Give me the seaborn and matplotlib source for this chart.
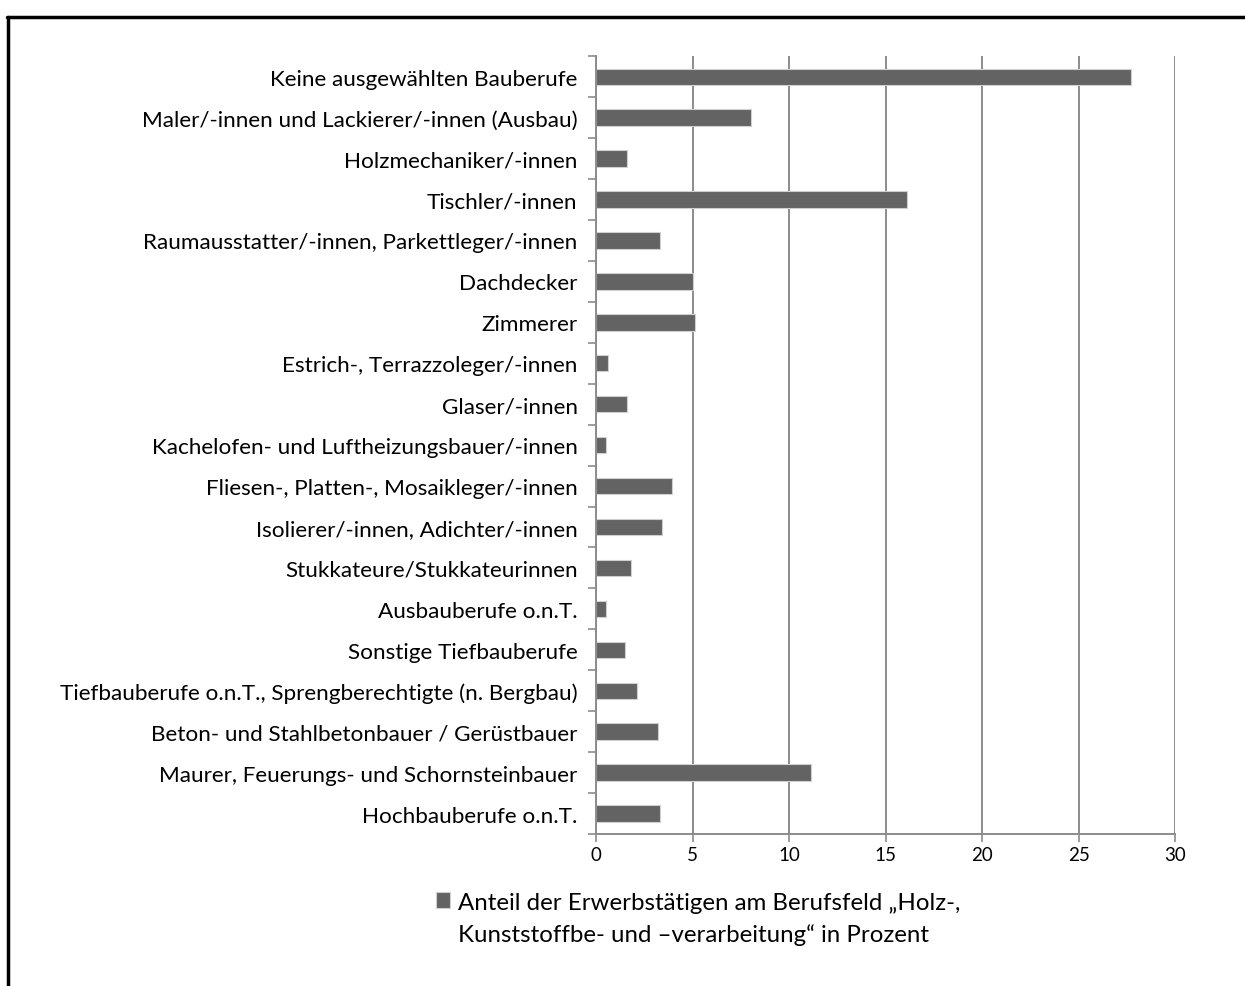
import matplotlib
matplotlib.use("Agg")
import matplotlib.pyplot as plt
import seaborn as sns
import pandas as pd

# Berufe (von oben nach unten) und Anteile in Prozent
berufe = [
    "Keine ausgewählten Bauberufe",
    "Maler/-innen und Lackierer/-innen (Ausbau)",
    "Holzmechaniker/-innen",
    "Tischler/-innen",
    "Raumausstatter/-innen, Parkettleger/-innen",
    "Dachdecker",
    "Zimmerer",
    "Estrich-, Terrazzoleger/-innen",
    "Glaser/-innen",
    "Kachelofen- und Luftheizungsbauer/-innen",
    "Fliesen-, Platten-, Mosaikleger/-innen",
    "Isolierer/-innen, Adichter/-innen",
    "Stukkateure/Stukkateurinnen",
    "Ausbauberufe o.n.T.",
    "Sonstige Tiefbauberufe",
    "Tiefbauberufe o.n.T., Sprengberechtigte (n. Bergbau)",
    "Beton- und Stahlbetonbauer / Gerüstbauer",
    "Maurer, Feuerungs- und Schornsteinbauer",
    "Hochbauberufe o.n.T.",
]
anteile = [27.7, 8.0, 1.6, 16.1, 3.3, 5.0, 5.1, 0.6, 1.6, 0.5,
           3.9, 3.4, 1.8, 0.5, 1.5, 2.1, 3.2, 11.1, 3.3]
x_ticks = [0, 5, 10, 15, 20, 25, 30]
legend_line1 = "Anteil der Erwerbstätigen am Berufsfeld \u201eHolz-,"
legend_line2 = "Kunststoffbe- und \u2013verarbeitung\u201c in Prozent"

df = pd.DataFrame({"Beruf": berufe, "Anteil": anteile})

sns.set_theme(style="white")
plt.rcParams["font.family"] = ["Lato", "DejaVu Sans"]

fig = plt.figure(figsize=(12.45, 9.87), dpi=100)
ax = fig.add_axes([0.479, 0.154, 0.465, 0.788])

grid_col = "#8c8c8c"
bar_col = "#636363"

sns.barplot(data=df, y="Beruf", x="Anteil", orient="h", color=bar_col,
            width=0.4, edgecolor="#d0d0d0", linewidth=0.8,
            label=legend_line1, ax=ax)

ax.set_xlim(0, 30)
ax.set_xticks(x_ticks)
ax.set_xticklabels([str(t) for t in x_ticks])
ax.set_xlabel("")
ax.set_ylabel("")
ax.set_ylim(len(berufe) - 0.5, -0.5)

# vertical gridlines only
ax.grid(axis="x", color=grid_col, linewidth=1.4)
ax.grid(axis="y", visible=False)
ax.set_axisbelow(True)

for side in ["top", "right"]:
    ax.spines[side].set_visible(False)
for side in ["left", "bottom"]:
    ax.spines[side].set_color(grid_col)
    ax.spines[side].set_linewidth(1.4)

# category separators as outward ticks on the y axis
ax.set_yticks([i - 0.5 for i in range(len(berufe) + 1)], minor=True)
ax.tick_params(axis="y", which="minor", length=6, width=1.2, color=grid_col,
               direction="out", left=True)
ax.tick_params(axis="y", which="major", length=0, labelsize=16.2, pad=13.5,
               labelcolor="black")
ax.tick_params(axis="x", which="major", length=6, width=1.2, color=grid_col,
               direction="out", bottom=True, labelsize=13.5, pad=2.5,
               labelcolor="black")

# legend below the plot, square next to the first text line
leg = fig.legend(handles=ax.get_legend_handles_labels()[0],
                 labels=[legend_line1], loc="center left",
                 bbox_to_anchor=(0.350, 0.0851), frameon=False,
                 fontsize=17.3, handlelength=0.6, handleheight=0.6,
                 handletextpad=0.33, borderpad=0, borderaxespad=0,
                 labelcolor="black")
if ax.get_legend() is not None:
    ax.get_legend().remove()

fig.canvas.draw()
renderer = fig.canvas.get_renderer()
first = leg.get_texts()[0].get_window_extent(renderer)
x0 = first.x0 / fig.bbox.width
fig.text(x0, 0.0527, legend_line2, fontsize=17.3, ha="left", va="center",
         color="black")

# outer frame (left and top edges)
fig.add_artist(plt.Line2D([0.0065, 0.0065], [0.0, 0.982], color="black",
                          linewidth=2.5, transform=fig.transFigure))
fig.add_artist(plt.Line2D([0.0055, 1.0], [0.982, 0.982], color="black",
                          linewidth=2.5, transform=fig.transFigure))

fig.savefig("out.png", dpi=100, facecolor="white")
